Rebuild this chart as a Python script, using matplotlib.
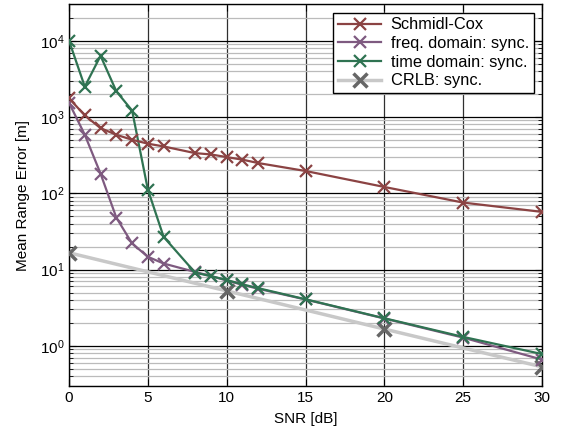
import matplotlib
matplotlib.use("Agg")
import matplotlib.pyplot as plt
import numpy as np
from matplotlib.ticker import LogLocator, NullFormatter

plt.rcParams['font.family'] = ['Liberation Sans', 'DejaVu Sans']

snr_sc = [0, 1, 2, 3, 4, 5, 6, 8, 9, 10, 11, 12, 15, 20, 25, 30]
schmidl_cox = [1760, 1050, 714, 585, 503, 447, 411, 336, 323, 298, 276, 249, 196, 121, 75.5, 57]

snr_fd = [0, 1, 2, 3, 4, 5, 6, 8, 9, 10, 11, 12, 15, 20, 25, 30]
freq_domain = [1535, 585, 181, 48, 22, 14.7, 12, 9.3, 8.2, 7.2, 6.3, 5.6, 4.05, 2.28, 1.28, 0.66]

snr_td = [0, 1, 2, 3, 4, 5, 6, 8, 9, 10, 11, 12, 15, 20, 25, 30]
time_domain = [10000, 2500, 6340, 2175, 1216, 112, 26.8, 9.1, 8.2, 7.3, 6.4, 5.7, 4.08, 2.3, 1.31, 0.78]

snr_crlb = [0, 10, 20, 30]
crlb = [16.6, 5.25, 1.66, 0.53]

c_sc = '#8B4343'
c_fd = '#7E5A80'
c_td = '#2F7352'
c_crlb_line = '#C8C8C8'
c_crlb_mk = '#666666'

fig = plt.figure(figsize=(5.63, 4.33), dpi=100)
ax = fig.add_axes([0.1226, 0.1092, 0.8401, 0.8808])

ax.plot(snr_crlb, crlb, color=c_crlb_line, lw=2.5, marker='x', ms=10, mew=2.5,
        mec=c_crlb_mk, label='CRLB: sync.', zorder=3)
ax.plot(snr_fd, freq_domain, color=c_fd, lw=1.6, marker='x', ms=9, mew=1.6,
        label='freq. domain: sync.', zorder=4)
ax.plot(snr_td, time_domain, color=c_td, lw=1.6, marker='x', ms=9, mew=1.6,
        label='time domain: sync.', zorder=5)
ax.plot(snr_sc, schmidl_cox, color=c_sc, lw=1.6, marker='x', ms=9, mew=1.6,
        label='Schmidl-Cox', zorder=6)

ax.set_yscale('log')
ax.set_xlim(0, 30)
ax.set_ylim(0.3, 3e4)
ax.set_xticks([0, 5, 10, 15, 20, 25, 30])
ax.yaxis.set_major_locator(LogLocator(base=10, numticks=10))
ax.yaxis.set_minor_locator(LogLocator(base=10, subs=np.arange(2, 10), numticks=20))
ax.yaxis.set_minor_formatter(NullFormatter())

ax.grid(True, which='major', axis='y', color='#000000', lw=0.9)
ax.grid(True, which='minor', axis='y', color='#BBBBBB', lw=0.9)
ax.grid(True, which='major', axis='x', color='#303030', lw=0.9)
ax.set_axisbelow(True)

ax.tick_params(which='both', direction='in', top=True, right=True, labelsize=11)
ax.tick_params(which='major', length=5)
ax.tick_params(which='minor', length=3)
for s in ax.spines.values():
    s.set_linewidth(1.0)

ax.set_xlabel('SNR [dB]', fontsize=11, labelpad=5)
ax.set_ylabel('Mean Range Error [m]', fontsize=11, labelpad=7)

h, l = ax.get_legend_handles_labels()
order = [3, 1, 2, 0]
leg = ax.legend([h[i] for i in order], [l[i] for i in order], loc='upper right',
                fontsize=11.8, fancybox=False, framealpha=1, edgecolor='black',
                borderaxespad=0.5, handlelength=2.6, labelspacing=0.22,
                borderpad=0.3, handletextpad=0.6)
leg.get_frame().set_linewidth(1.0)

fig.savefig('out.png', dpi=100)
